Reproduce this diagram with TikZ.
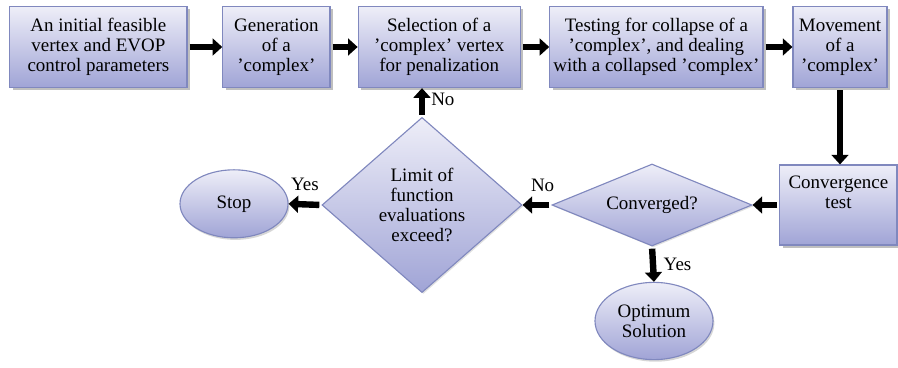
\documentclass[tikz,border=0pt]{standalone}
\usepackage{fontspec}
\setmainfont[Ligatures=ResetAll]{Liberation Serif}
\usetikzlibrary{shapes.geometric,shadows,arrows.meta}
\definecolor{boxtop}{RGB}{238, 238, 248}
\definecolor{boxbot}{RGB}{160, 164, 214}
\definecolor{boxline}{RGB}{128, 136, 190}
\newcommand{\sq}{\char"0027\relax}

\begin{document}
\begin{tikzpicture}[
    every node/.style={font=\rmfamily\fontsize{13.5}{14.3}\selectfont, align=center},
    proc/.style={draw=boxline, thick, rectangle, top color=boxtop, bottom color=boxbot, inner sep=1pt,
        drop shadow={shadow xshift=2pt, shadow yshift=-2pt, fill=black!50, opacity=0.5}},
    decide/.style={draw=boxline, thick, diamond, top color=boxtop, bottom color=boxbot, inner sep=0pt,
        drop shadow={shadow xshift=1pt, shadow yshift=-1pt, fill=black!40, opacity=0.3}},
    term/.style={draw=boxline, thick, ellipse, top color=boxtop, bottom color=boxbot, inner sep=0pt,
        drop shadow={shadow xshift=1pt, shadow yshift=-1.5pt, fill=black!40, opacity=0.4}},
    flow/.style={line width=1.6mm, -{Triangle[length=2.4mm, width=4.2mm]}, shorten <=1.5pt}
  ]
    \useasboundingbox (0,0) rectangle (22.45,9.175);

    \node[proc, minimum width=4.43cm, minimum height=2.03cm] (init) at (2.46,8.0)
        {An initial feasible\\vertex and EVOP\\control parameters};
    \node[proc, minimum width=2.68cm, minimum height=2.03cm] (gen) at (6.91,8.0)
        {Generation\\of a\\\sq complex\sq};
    \node[proc, minimum width=4.05cm, minimum height=2.03cm] (sel) at (10.98,8.0)
        {Selection of a\\\sq complex\sq{} vertex\\for penalization};
    \node[proc, minimum width=5.33cm, minimum height=2.03cm] (coll) at (16.41,8.0)
        {Testing for collapse of a\\\sq complex\sq, and dealing\\with a collapsed \sq complex\sq};
    \node[proc, minimum width=2.35cm, minimum height=2.03cm] (move) at (21.0,8.0)
        {Movement\\of a\\\sq complex\sq};

    \node[proc, minimum width=2.93cm, minimum height=2.0cm] (test) at (20.96,4.05)
        {Convergence\\test\\[4pt]};
    \node[decide, aspect=2.4, minimum width=5.0cm, minimum height=2.05cm] (conv) at (16.3,4.05)
        {Converged?};
    \node[decide, minimum width=5.0cm, minimum height=4.38cm] (limit) at (10.55,4.05)
        {Limit of\\function\\evaluations\\exceed?};
    \node[term, minimum width=2.7cm, minimum height=1.7cm] (stop) at (5.85,4.08) {Stop};
    \node[term, minimum width=2.95cm, minimum height=1.93cm] (opt) at (16.35,1.15)
        {Optimum\\Solution};

    \draw[flow] (init) -- (gen);
    \draw[flow] (gen) -- (sel);
    \draw[flow] (sel) -- (coll);
    \draw[flow] (coll) -- (move);
    \draw[flow] (move) -- (move |- test.north);
    \draw[flow] (test.west |- conv) -- (conv.east);
    \draw[flow] (conv.west) -- node[above=4pt, xshift=4pt] {No} (limit.east);
    \draw[flow] (limit.west) -- node[above=4pt] {Yes} (stop.east);
    \draw[flow] (limit.north) -- node[right=1pt, pos=0.6] {No} (limit.north |- sel.south);
    \draw[flow] (conv.south) -- node[right=2pt] {Yes} (opt.north);
\end{tikzpicture}
\end{document}
